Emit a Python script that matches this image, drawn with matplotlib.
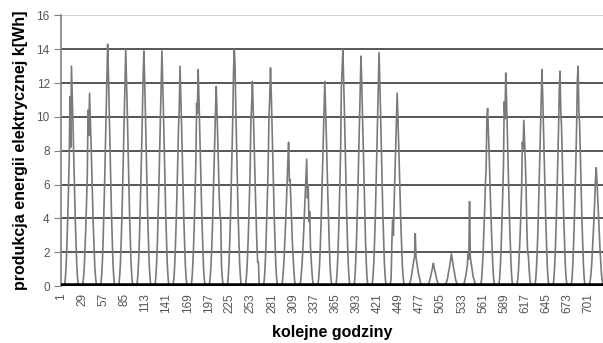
import numpy as np
import matplotlib
matplotlib.use("Agg")
import matplotlib.pyplot as plt

plt.rcParams['font.family'] = ['Liberation Sans', 'DejaVu Sans']

# hourly production for each day, hours 5..23 (other hours are zero)
day_values = [
    [0.1, 0.5, 1.3, 2.5, 3.9, 5.6, 7.4, 11.2, 8.2, 13.0, 11.4, 9.6, 7.7, 5.9, 4.0, 2.6, 1.3, 0.5, 0.1],
    [0.1, 0.5, 1.1, 2.2, 3.4, 4.9, 6.5, 10.4, 8.9, 11.4, 10.0, 8.4, 6.7, 5.1, 3.5, 2.3, 1.1, 0.5, 0.1],
    [0.1, 0.6, 1.4, 2.7, 4.3, 6.1, 8.2, 10.3, 12.4, 14.3, 12.6, 10.6, 8.4, 6.4, 4.4, 2.9, 1.4, 0.6, 0.1],
    [0.1, 0.6, 1.4, 2.7, 4.2, 6.0, 8.0, 10.1, 12.2, 14.0, 12.3, 10.4, 8.3, 6.3, 4.3, 2.8, 1.4, 0.6, 0.1],
    [0.1, 0.6, 1.4, 2.6, 4.2, 6.0, 7.9, 10.0, 12.3, 13.9, 12.4, 10.3, 8.2, 6.3, 4.3, 2.8, 1.4, 0.6, 0.1],
    [0.1, 0.6, 1.4, 2.6, 4.2, 6.0, 7.9, 10.0, 12.1, 13.9, 12.2, 10.3, 8.2, 6.3, 4.3, 2.8, 1.4, 0.6, 0.1],
    [0.1, 0.5, 1.3, 2.5, 3.9, 5.6, 7.4, 9.4, 10.6, 13.0, 11.4, 9.6, 7.7, 5.9, 4.0, 2.6, 1.3, 0.5, 0.1],
    [0.1, 0.5, 1.3, 2.4, 3.8, 5.5, 7.3, 10.8, 10.2, 12.8, 11.3, 9.5, 7.6, 5.8, 4.0, 2.6, 1.3, 0.5, 0.1],
    [0.1, 0.5, 1.2, 2.2, 3.5, 5.1, 6.7, 8.5, 10.3, 11.8, 10.4, 8.7, 7.0, 5.3, 4.2, 3.9, 1.2, 0.5, 0.1],
    [0.1, 0.6, 1.4, 2.7, 4.2, 6.0, 8.0, 10.1, 12.8, 14.0, 13.0, 10.4, 8.3, 6.3, 4.3, 2.8, 1.4, 0.6, 0.1],
    [0.1, 0.5, 1.2, 2.3, 3.6, 5.2, 6.9, 9.8, 10.7, 12.1, 10.6, 9.0, 7.1, 5.4, 3.8, 2.4, 1.4, 1.4, 0.1],
    [0.1, 0.5, 1.3, 2.5, 3.9, 5.5, 7.4, 10.0, 11.2, 12.9, 11.4, 9.5, 7.6, 5.8, 4.0, 2.6, 1.3, 0.5, 0.1],
    [0.1, 0.3, 0.9, 1.6, 2.6, 3.7, 4.8, 6.1, 7.4, 8.5, 6.2, 6.3, 5.0, 3.8, 2.6, 1.7, 0.9, 0.3, 0.1],
    [0.1, 0.3, 0.8, 1.4, 2.3, 3.2, 4.3, 5.4, 6.5, 7.5, 5.2, 6.0, 3.8, 4.4, 2.3, 1.5, 0.8, 0.3, 0.1],
    [0.1, 0.5, 1.2, 2.3, 3.6, 5.2, 6.9, 8.7, 10.5, 12.1, 10.6, 9.0, 7.1, 5.4, 3.8, 2.4, 1.2, 0.5, 0.1],
    [0.1, 0.6, 1.4, 2.7, 4.2, 6.0, 8.0, 11.8, 12.8, 14.0, 12.3, 10.4, 8.3, 6.3, 4.3, 2.8, 1.4, 0.6, 0.1],
    [0.1, 0.5, 1.4, 2.6, 4.1, 5.8, 7.8, 9.8, 11.8, 13.6, 12.0, 10.1, 8.0, 6.1, 4.2, 2.7, 1.4, 0.5, 0.1],
    [0.1, 0.6, 1.4, 2.6, 4.1, 5.9, 7.9, 9.9, 12.0, 13.8, 12.1, 10.2, 8.1, 6.2, 4.3, 2.8, 1.4, 0.6, 0.1],
    [0.1, 0.5, 2.6, 3.9, 3.0, 4.9, 6.5, 8.2, 9.9, 11.4, 10.0, 8.4, 6.7, 5.1, 3.5, 2.3, 1.1, 0.5, 0.1],
    [0.0, 0.1, 0.2, 0.4, 0.6, 0.9, 1.2, 1.5, 1.7, 3.1, 1.7, 1.4, 1.1, 0.8, 0.6, 0.4, 0.2, 0.1, 0.0],
    [0.0, 0.0, 0.1, 0.2, 0.3, 0.5, 0.7, 0.9, 1.1, 1.35, 1.1, 0.9, 0.7, 0.5, 0.3, 0.2, 0.1, 0.0, 0.0],
    [0.0, 0.1, 0.2, 0.3, 0.5, 0.8, 1.0, 1.3, 1.6, 1.9, 1.6, 1.3, 1.0, 0.8, 0.5, 0.3, 0.2, 0.1, 0.0],
    [0.0, 0.1, 0.2, 0.4, 0.6, 0.9, 1.2, 1.9, 1.6, 5.0, 1.7, 1.4, 1.1, 0.8, 0.5, 0.4, 0.2, 0.1, 0.0],
    [0.1, 0.4, 1.1, 2.0, 3.2, 4.5, 6.0, 6.9, 10.0, 10.5, 9.2, 7.8, 6.2, 4.7, 3.3, 2.1, 1.1, 0.4, 0.1],
    [0.1, 0.5, 1.3, 2.4, 3.8, 5.4, 7.2, 10.9, 9.9, 12.6, 11.1, 9.3, 7.4, 5.7, 3.9, 2.5, 1.3, 0.5, 0.1],
    [0.1, 0.4, 1.0, 1.9, 2.9, 4.2, 5.6, 8.5, 8.1, 9.8, 8.6, 7.3, 5.8, 3.4, 2.0, 1.8, 1.0, 0.4, 0.1],
    [0.1, 0.5, 1.3, 2.4, 3.8, 5.5, 7.3, 9.2, 11.1, 12.8, 11.3, 9.5, 7.6, 5.8, 4.0, 2.6, 1.3, 0.5, 0.1],
    [0.1, 0.5, 1.3, 2.4, 3.8, 5.5, 7.3, 9.2, 11.6, 12.7, 10.4, 9.4, 7.5, 5.7, 3.9, 2.5, 1.3, 0.5, 0.1],
    [0.1, 0.5, 1.3, 2.5, 3.9, 5.6, 7.4, 9.4, 12.2, 13.0, 10.3, 9.6, 7.7, 5.9, 4.0, 2.6, 1.3, 0.5, 0.1],
    [0.1, 0.3, 0.7, 1.3, 2.1, 3.0, 4.0, 5.0, 6.3, 7.0, 6.2, 5.2, 4.1, 3.2, 2.2, 1.4, 0.7, 0.3, 0.1],
]
first_hour = 5
x_tick_labels = [str(v) for v in range(1, 702, 28)]
y_ticks = [0, 2, 4, 6, 8, 10, 12, 14, 16]

hours = np.arange(1, 24 * len(day_values) + 1)
energy = np.zeros(len(hours))
for k, vals in enumerate(day_values):
    start = 24 * k + first_hour
    energy[start:start + len(vals)] = vals

fig = plt.figure(figsize=(6.03, 3.43), dpi=100)
ax = fig.add_axes([0.101, 0.166, 0.899, 0.789])

for y in y_ticks[1:-1]:
    ax.axhline(y, color='#3a3a3a', lw=1.2, zorder=1)
ax.axhline(16, color='#d4d4d4', lw=1.5, zorder=1)

ax.plot(hours, energy, color='#7a7a7a', lw=1.2, zorder=2)
ax.axhline(0, color='black', lw=4, zorder=3)

ax.set_xlim(1, 720)
ax.set_ylim(0, 16)
ax.set_yticks(y_ticks)
ax.set_xticks([int(t) for t in x_tick_labels])
ax.set_xticklabels(x_tick_labels, rotation=90)

for s in ['top', 'right', 'bottom']:
    ax.spines[s].set_visible(False)
ax.spines['left'].set_color('#808080')
ax.spines['left'].set_linewidth(1.2)

ax.tick_params(axis='y', length=5, color='#808080', labelsize=8.5,
               labelcolor='#555555', pad=3)
ax.tick_params(axis='x', length=0, labelsize=8.5, labelcolor='#555555', pad=5)

ax.set_xlabel('kolejne godziny', fontsize=11.5, fontweight='bold', labelpad=9)
ax.set_ylabel('produkcja energii elektrycznej k[Wh]', fontsize=11.5,
              fontweight='bold', labelpad=6)

fig.savefig('out.png', dpi=100)
